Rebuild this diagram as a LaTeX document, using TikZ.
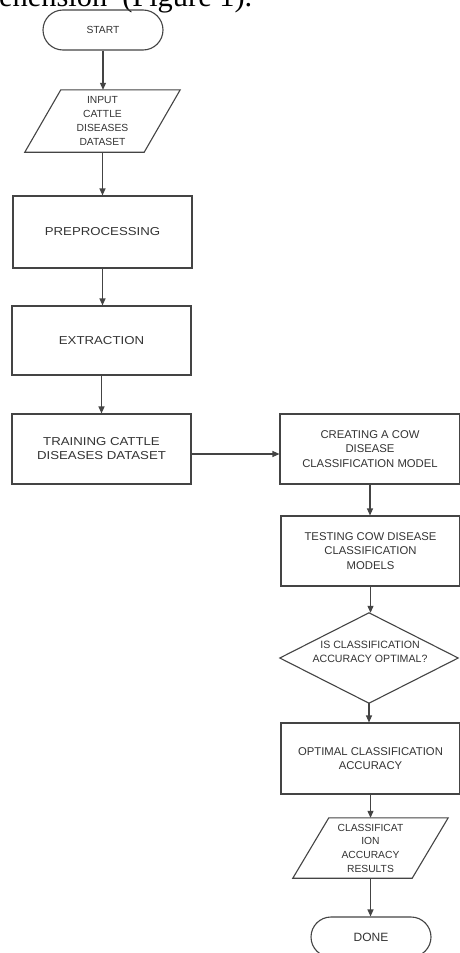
\documentclass[tikz,border=0pt]{standalone}
\usepackage{fontspec}
\setmainfont{Liberation Serif}
\newfontfamily\fa{Liberation Sans}
\newfontfamily\faw{Liberation Sans}[FakeStretch=1.15]
\usetikzlibrary{arrows.meta,calc}
\definecolor{ln}{HTML}{444444}
\definecolor{tx}{HTML}{333333}
\begin{document}
\begin{tikzpicture}[x=1pt,y=-1pt,
  box/.style={draw=ln, line width=1.1pt, rectangle, inner sep=0pt,
    minimum width=179pt, minimum height=70pt, align=center, text=tx},
  term/.style={draw=ln, line width=1.1pt, rectangle, rounded corners=20pt,
    inner sep=0pt, minimum width=120pt, minimum height=40pt, text=tx},
  ghost/.style={rectangle, inner sep=0pt, align=center, text=tx},
  shp/.style={draw=ln, line width=1.1pt, line join=miter},
  conn/.style={draw=ln, line width=1.1pt, -{Triangle[width=6pt,length=7pt]}},
  lfont/.style={font=\faw\fontsize{11.5}{14}\selectfont},
  rfont/.style={font=\fa\fontsize{11.3}{14.3}\selectfont},
  sfont/.style={font=\fa\fontsize{10.3}{13.7}\selectfont}]
\useasboundingbox (0,0) rectangle (459,953);
\fill[white] (0,0) rectangle (459,953);

% cut-off running text at the top
\node[anchor=base west, inner sep=0pt, font=\fontsize{30.4}{32}\selectfont] (cap) at (-1,6)
  {ehension\hspace{15pt}(Figure 1).};

% left column
\node[term, sfont] (start) at (103,30) {START};
\node[ghost, sfont, minimum width=155pt, minimum height=62pt] (in) at (102.5,121)
  {INPUT\\CATTLE\\DISEASES\\DATASET};
\draw[shp] ($(in.north west)+(36,0)$) -- (in.north east)
  -- ($(in.south east)+(-36,0)$) -- (in.south west) -- cycle;
\node[box, lfont, minimum height=72pt] (pre) at (102.5,232) {PREPROCESSING};
\node[box, lfont, minimum height=69pt] (ext) at (101.5,340.5) {EXTRACTION};
\node[box, lfont] (tr) at (101.5,449) {TRAINING CATTLE\\DISEASES DATASET};

% right column
\node[box, rfont, minimum width=180pt] (cr) at (370,449)
  {CREATING A COW\\DISEASE\\CLASSIFICATION MODEL};
\node[box, rfont] (te) at (370.5,551)
  {TESTING COW DISEASE\\CLASSIFICATION\\MODELS};
\node[ghost, minimum width=178pt, minimum height=90pt] (dec) at (369,658) {};
\draw[shp] (dec.north) -- (dec.east) -- (dec.south) -- (dec.west) -- cycle;
\node[ghost, font=\fa\fontsize{10.6}{14}\selectfont] (dectext) at (370,652)
  {IS CLASSIFICATION\\ACCURACY OPTIMAL?};
\node[box, rfont, minimum height=71pt] (op) at (370.5,758.5)
  {OPTIMAL CLASSIFICATION\\ACCURACY};
\node[ghost, sfont, minimum width=155pt, minimum height=60pt] (res) at (370.5,848)
  {CLASSIFICAT\\ION\\ACCURACY\\RESULTS};
\draw[shp] ($(res.north west)+(36,0)$) -- (res.north east)
  -- ($(res.south east)+(-36,0)$) -- (res.south west) -- cycle;
\node[term, font=\fa\fontsize{12}{14}\selectfont] (done) at (371,937) {DONE};

% connectors
\coordinate (tre) at ($(tr.east)+(0,5)$);
\draw[conn] (start.south) -- (start.south |- in.north);
\draw[conn] (in.south) -- (in.south |- pre.north);
\draw[conn] (pre.south) -- (pre.south |- ext.north);
\draw[conn] (ext.south) -- (ext.south |- tr.north);
\draw[conn] (tre) -- (tre -| cr.west);
\draw[conn] (cr.south) -- (cr.south |- te.north);
\draw[conn] (te.south) -- (te.south |- dec.north);
\draw[conn] (dec.south) -- (dec.south |- op.north);
\draw[conn] (op.south) -- (op.south |- res.north);
\draw[conn] (res.south) -- (res.south |- done.north);
\end{tikzpicture}
\end{document}
